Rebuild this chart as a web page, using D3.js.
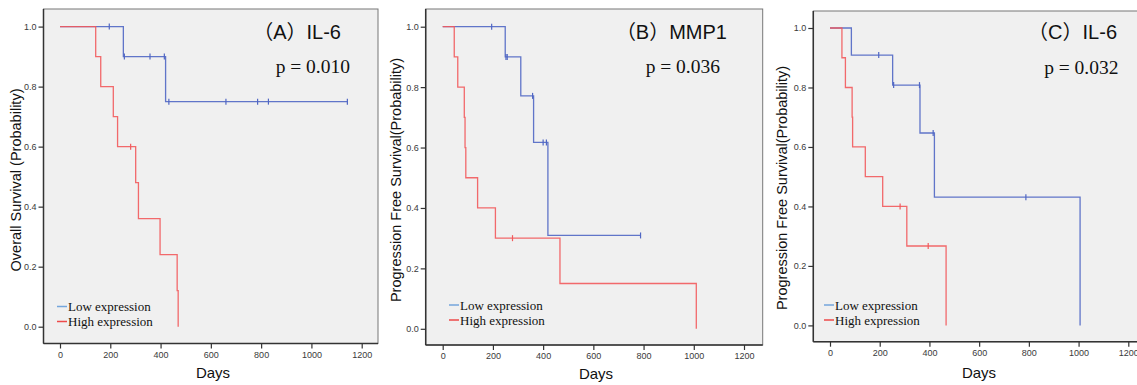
<!DOCTYPE html>
<html>
<head>
<meta charset="utf-8">
<script src="https://cdn.jsdelivr.net/npm/d3@7"></script>
<style>
  html, body { margin: 0; padding: 0; background: #fff; }
  svg { display: block; }
  .tick text { font-family: "Liberation Sans", Arial, sans-serif; font-size: 9px; fill: #3a3a3a; }
  .tick line { stroke: #333; stroke-width: 1.2; }
  .ylab, .xlab { font-family: "Liberation Sans", Arial, sans-serif; fill: #111; }
  .title { font-family: "Liberation Sans", Arial, "Noto Sans CJK SC", sans-serif; font-size: 20px; fill: #111; }
  .pval, .leg { font-family: "Liberation Serif", "Times New Roman", serif; fill: #111; }
</style>
</head>
<body>
<svg id="chart" width="1137" height="385"></svg>
<script>
// Kaplan-Meier curves: [day, survival] after each drop.
const xTicks = [0, 200, 400, 600, 800, 1000, 1200];
const yTicks = [0, 0.2, 0.4, 0.6, 0.8, 1.0];
const seriesNames = ["Low expression", "High expression"];

// (A) IL-6, overall survival
const aLowSteps = [[0, 1], [252, 0.9], [420, 0.75]];
const aLowEnd = 1143;
const aLowCensor = [196, 256, 358, 415, 433, 660, 786, 829, 1143];
const aHighSteps = [[0, 1], [142, 0.9], [162, 0.8], [212, 0.7], [229, 0.6], [301, 0.48], [312, 0.36], [398, 0.24], [466, 0.12], [470, 0]];
const aHighEnd = 470;
const aHighCensor = [281];

// (B) MMP1, progression free survival
const bLowSteps = [[0, 1], [249, 0.9], [311, 0.771], [362, 0.617], [419, 0.309]];
const bLowEnd = 788;
const bLowCensor = [195, 252, 257, 358, 400, 413, 788];
const bHighSteps = [[0, 1], [46, 0.9], [60, 0.8], [86, 0.7], [89, 0.6], [92, 0.5], [139, 0.4], [210, 0.3], [467, 0.15], [1010, 0]];
const bHighEnd = 1010;
const bHighCensor = [278];

// (C) IL-6, progression free survival
const cLowSteps = [[0, 1], [86, 0.909], [252, 0.808], [362, 0.647], [420, 0.431], [1006, 0]];
const cLowEnd = 1006;
const cLowCensor = [196, 256, 360, 415, 788];
const cHighSteps = [[0, 1], [48, 0.9], [62, 0.8], [89, 0.7], [91, 0.6], [142, 0.5], [212, 0.4], [309, 0.267], [467, 0]];
const cHighEnd = 467;
const cHighCensor = [282, 395];

const colLow = "#5067c4", colHigh = "#f25a5c";
const legLow = "#74a6dc", legHigh = "#ee4a4a";

// --- panel layout (pixels) ---
const panels = [
  {
    title: "（A）IL-6", p: "p = 0.010", ylab: "Overall Survival (Probability)",
    frame: [43.5, 9, 378, 343.5], xr: [60, 361.7], yr: [326.7, 26.6],
    titleXY: [341, 39], pXY: [350, 73], ylabXY: [21, 180], xlabXY: [213, 378],
    legXY: [57, 306.5],
    low: [aLowSteps, aLowEnd, aLowCensor], high: [aHighSteps, aHighEnd, aHighCensor]
  },
  {
    title: "（B）MMP1", p: "p = 0.036", ylab: "Progression Free Survival(Probability)",
    frame: [425.7, 9, 762.7, 345], xr: [442.7, 744], yr: [328.8, 26.7],
    titleXY: [727, 39.3], pXY: [720, 73], ylabXY: [400.5, 180], xlabXY: [596, 379],
    legXY: [449, 305],
    low: [bLowSteps, bLowEnd, bLowCensor], high: [bHighSteps, bHighEnd, bHighCensor]
  },
  {
    title: "（C）IL-6", p: "p = 0.032", ylab: "Progression Free Survival(Probability)",
    frame: [813.3, 11, 1150, 341.7], xr: [830, 1128.3], yr: [325.4, 28],
    titleXY: [1117, 39.3], pXY: [1118.5, 74], ylabXY: [787, 188], xlabXY: [979, 378],
    legXY: [824, 305],
    low: [cLowSteps, cLowEnd, cLowCensor], high: [cHighSteps, cHighEnd, cHighCensor]
  }
];

const svg = d3.select("#chart");

function valueAt(steps, t) {
  let v = steps[0][1];
  for (const s of steps) if (s[0] <= t) v = s[1];
  return v;
}

function drawPanel(cfg) {
  const [fl, ft, fr, fb] = cfg.frame;
  const x = d3.scaleLinear().domain([0, 1200]).range(cfg.xr);
  const y = d3.scaleLinear().domain([0, 1]).range(cfg.yr);
  const g = svg.append("g");

  g.append("rect").attr("x", fl).attr("y", ft).attr("width", fr - fl).attr("height", fb - ft)
    .attr("fill", "#f0f0f0").attr("stroke", "#777").attr("stroke-width", 1);

  // axes
  const ya = g.append("g").attr("transform", `translate(${fl},0)`)
    .call(d3.axisLeft(y).tickValues(yTicks).tickSize(5).tickPadding(2).tickFormat(d3.format(".1f")));
  ya.select(".domain").remove();
  const xa = g.append("g").attr("transform", `translate(0,${fb})`)
    .call(d3.axisBottom(x).tickValues(xTicks).tickSize(5).tickPadding(3).tickFormat(d3.format("d")));
  xa.select(".domain").remove();
  g.append("line").attr("x1", fl).attr("x2", fl).attr("y1", ft).attr("y2", fb)
    .attr("stroke", "#333").attr("stroke-width", 1.5);
  g.append("line").attr("x1", fl).attr("x2", fr).attr("y1", fb).attr("y2", fb)
    .attr("stroke", "#333").attr("stroke-width", 1.5);

  // curves: low first, high on top
  const line = d3.line().curve(d3.curveStepAfter).x(d => x(d[0])).y(d => y(d[1]));
  [[cfg.low, colLow], [cfg.high, colHigh]].forEach(([s, col]) => {
    const [steps, end, censor] = s;
    const pts = steps.concat([[end, steps[steps.length - 1][1]]]);
    g.append("path").datum(pts).attr("d", line).attr("fill", "none")
      .attr("stroke", col).attr("stroke-width", 1.3).attr("opacity", 0.9);
    g.selectAll(null).data(censor).enter().append("line")
      .attr("x1", d => x(d)).attr("x2", d => x(d))
      .attr("y1", d => y(valueAt(steps, d)) - 3).attr("y2", d => y(valueAt(steps, d)) + 3)
      .attr("stroke", col).attr("stroke-width", 1.2);
  });

  // texts
  g.append("text").attr("class", "title").attr("x", cfg.titleXY[0]).attr("y", cfg.titleXY[1])
    .attr("text-anchor", "end").text(cfg.title);
  g.append("text").attr("class", "pval").attr("x", cfg.pXY[0]).attr("y", cfg.pXY[1])
    .attr("text-anchor", "end").attr("font-size", 19.5).text(cfg.p);
  g.append("text").attr("class", "ylab").attr("font-size", 14.5).attr("text-anchor", "middle")
    .attr("transform", `translate(${cfg.ylabXY[0]},${cfg.ylabXY[1]}) rotate(-90)`).text(cfg.ylab);
  g.append("text").attr("class", "xlab").attr("font-size", 15).attr("text-anchor", "middle")
    .attr("x", cfg.xlabXY[0]).attr("y", cfg.xlabXY[1]).text("Days");

  // legend
  const [lx, ly] = cfg.legXY;
  [legLow, legHigh].forEach((col, i) => {
    const yy = ly + i * 15;
    g.append("line").attr("x1", lx).attr("x2", lx + 10).attr("y1", yy).attr("y2", yy)
      .attr("stroke", col).attr("stroke-width", 1.5);
    g.append("text").attr("class", "leg").attr("font-size", 13).attr("x", lx + 11).attr("y", yy + 4.5)
      .text(seriesNames[i]);
  });
}

panels.forEach(drawPanel);
</script>
</body>
</html>
